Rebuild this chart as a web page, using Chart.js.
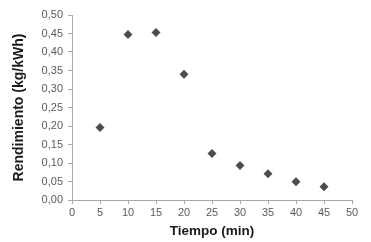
<!DOCTYPE html>
<html>
<head>
<meta charset="utf-8">
<script src="https://cdn.jsdelivr.net/npm/chart.js@4/dist/chart.umd.min.js"></script>
<style>
html,body{margin:0;padding:0;background:#fff;}
#wrap{width:371px;height:242px;}
</style>
</head>
<body>
<div id="wrap"><canvas id="c" width="371" height="242"></canvas></div>
<script>
const tiempo = [5, 10, 15, 20, 25, 30, 35, 40, 45];
const rendimiento = [0.196, 0.447, 0.453, 0.340, 0.126, 0.093, 0.071, 0.049, 0.036];
const xTitle = 'Tiempo (min)';
const yTitle = 'Rendimiento (kg/kWh)';

const points = tiempo.map((t, i) => ({x: t, y: rendimiento[i]}));
const axisColor = '#a8a8a8';
const tickColor = '#5a5a5a';
const font = 'Liberation Sans';

new Chart(document.getElementById('c'), {
  type: 'scatter',
  data: {
    datasets: [{
      data: points,
      pointStyle: 'rectRot',
      pointRadius: 4.5,
      pointHoverRadius: 4.5,
      backgroundColor: '#4d4d4d',
      borderColor: '#4d4d4d',
      borderWidth: 0
    }]
  },
  options: {
    responsive: false,
    animation: false,
    events: [],
    layout: {padding: {top: 15, right: 19, bottom: 0, left: 0}},
    plugins: {legend: {display: false}, tooltip: {enabled: false}},
    scales: {
      x: {
        type: 'linear',
        min: 0, max: 50,
        afterFit: s => { s.height = 42; },
        border: {color: axisColor, width: 1},
        grid: {drawOnChartArea: false, drawTicks: true, tickLength: 4, color: axisColor},
        ticks: {stepSize: 5, color: tickColor, padding: 2, font: {family: font, size: 11}, maxRotation: 0},
        title: {display: true, text: xTitle, color: '#1a1a1a', font: {family: font, size: 13.5, weight: 'bold'}, padding: {top: 0, bottom: 3}}
      },
      y: {
        min: 0, max: 0.5,
        afterFit: s => { s.width = 72; },
        border: {color: axisColor, width: 1},
        grid: {drawOnChartArea: false, drawTicks: true, tickLength: 4, color: axisColor},
        ticks: {stepSize: 0.05, color: tickColor, padding: 5, font: {family: font, size: 11},
          callback: v => v.toFixed(2).replace('.', ',')},
        title: {display: true, text: yTitle, color: '#1a1a1a', font: {family: font, size: 14, weight: 'bold'}, padding: {top: 11, bottom: 0}}
      }
    }
  }
});
</script>
</body>
</html>
